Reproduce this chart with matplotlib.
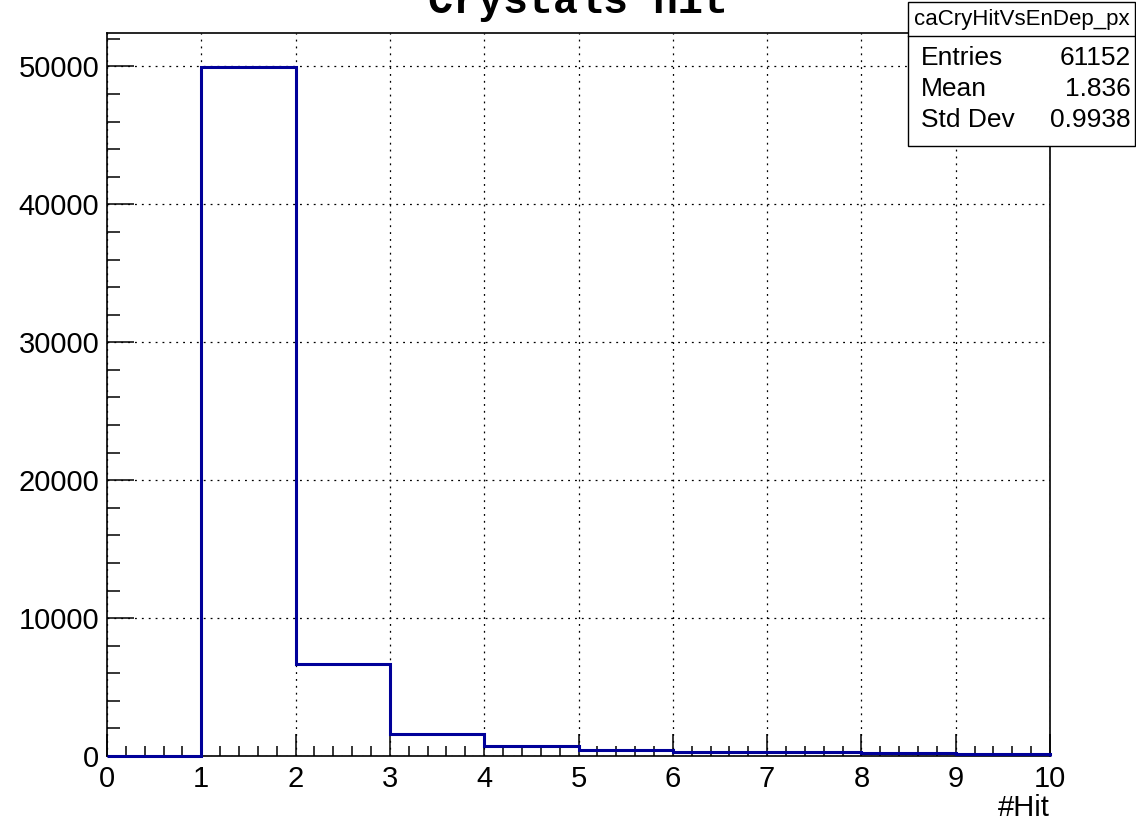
import matplotlib
matplotlib.use("Agg")
import matplotlib.pyplot as plt
from matplotlib.patches import Rectangle
from matplotlib.lines import Line2D
from matplotlib.ticker import MultipleLocator

# histogram data (bin edges 0..10, width 1)
bin_edges = [0, 1, 2, 3, 4, 5, 6, 7, 8, 9, 10]
counts = [0, 49930, 6700, 1580, 720, 420, 300, 260, 200, 130]

title = "Crystals hit"
x_label = "#Hit"
stats_name = "caCryHitVsEnDep_px"
stats_rows = ["Entries", "Mean", "Std Dev"]
stats_vals = ["61152", "1.836", "0.9938"]

W, H = 1136, 821
plt.rcParams['font.family'] = ['Liberation Sans', 'DejaVu Sans']

fig = plt.figure(figsize=(W / 100, H / 100), dpi=100)
# axes frame in pixels: left 107, right 1050, top 33, bottom 756
ax = fig.add_axes([107 / W, 1 - 756 / H, (1050 - 107) / W, (756 - 33) / H])

ax.stairs(counts, bin_edges, color="#000099", linewidth=2.2, zorder=3, clip_on=False)

ax.set_xlim(0, 10)
ax.set_ylim(0, max(counts) * 1.05)

ax.xaxis.set_major_locator(MultipleLocator(1))
ax.xaxis.set_minor_locator(MultipleLocator(0.2))
ax.yaxis.set_major_locator(MultipleLocator(10000))
ax.yaxis.set_minor_locator(MultipleLocator(2000))

ax.tick_params(axis="x", which="major", direction="in", length=15.8, width=1.1,
               labelsize=21, pad=6.5, top=False)
ax.tick_params(axis="x", which="minor", direction="in", length=7.2, width=1.1, top=False)
ax.tick_params(axis="y", which="major", direction="in", length=19.4, width=1.1,
               labelsize=21, pad=5.5, right=False)
ax.tick_params(axis="y", which="minor", direction="in", length=9.4, width=1.1, right=False)

for sp in ax.spines.values():
    sp.set_linewidth(1.2)
    sp.set_color("black")

ax.grid(True, which="major", color="black", linewidth=0.9, linestyle=(0, (1.5, 4)), zorder=1)
ax.set_axisbelow(True)

# title, partly cut off at the top like the original
fig.text(578 / W, 1 - 13 / H, title, family="Liberation Mono", fontsize=30,
         fontweight="bold", ha="center", va="baseline")

# x axis label at the right end
fig.text(1050 / W, 5 / H, x_label, fontsize=21, ha="right", va="baseline")

# stats box
bx0, bx1, by0, by1 = 908, 1135, 2, 146
fig.add_artist(Rectangle((bx0 / W, 1 - by1 / H), (bx1 - bx0) / W, (by1 - by0) / H,
                         transform=fig.transFigure, facecolor="white",
                         edgecolor="black", linewidth=1.0, zorder=10))
fig.add_artist(Line2D([bx0 / W, bx1 / W], [1 - 36 / H, 1 - 36 / H],
                      transform=fig.transFigure, color="black", linewidth=1.0, zorder=11))
fig.text((bx0 + bx1) / 2 / W, 1 - 19 / H, stats_name, fontsize=16,
         ha="center", va="center", zorder=12)
row_y = [58, 89, 120]
for name, val, yy in zip(stats_rows, stats_vals, row_y):
    fig.text(921 / W, 1 - yy / H, name, fontsize=19, ha="left", va="center", zorder=12)
    fig.text(1131 / W, 1 - yy / H, val, fontsize=19, ha="right", va="center", zorder=12)

fig.savefig("out.png", dpi=100)
